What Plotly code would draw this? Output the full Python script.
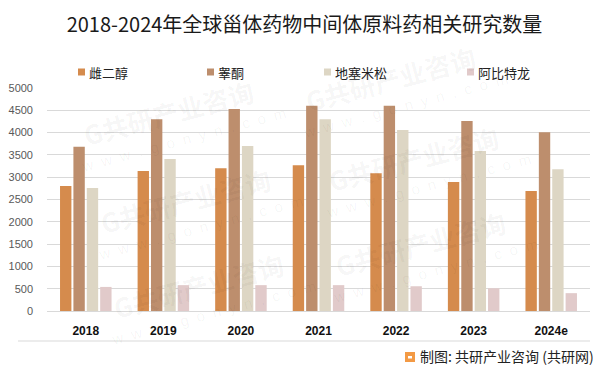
import math
import plotly.graph_objects as go

years = ["2018", "2019", "2020", "2021", "2022", "2023", "2024e"]
series_names = ["雌二醇", "睾酮", "地塞米松", "阿比特龙"]
estradiol = [2800, 3140, 3200, 3270, 3090, 2890, 2690]
testosterone = [3680, 4300, 4530, 4600, 4600, 4260, 4010]
dexamethasone = [2760, 3410, 3700, 4300, 4060, 3590, 3180]
abiraterone = [540, 580, 580, 580, 555, 510, 400]
y_ticks = [0, 500, 1000, 1500, 2000, 2500, 3000, 3500, 4000, 4500, 5000]
colors = ["#D58B4D", "#BD8E6D", "#DDD6C4", "#E1CACA"]

CJK = "Noto Sans CJK SC"
# The page body adds an 8px margin; figure coordinates = reference coordinates - 8
W, H = 593, 365
L, R, T, B = 39, 11, 80, 62
PW, PH = W - L - R, H - T - B


def px(x):
    return (x - L) / PW


def py(y):
    return (H - B - y) / PH


fig = go.Figure()
for name, vals, c in zip(series_names, [estradiol, testosterone, dexamethasone, abiraterone], colors):
    fig.add_trace(go.Bar(x=years, y=vals, name=name, marker=dict(color=c, line=dict(width=0))))

fig.update_layout(
    width=W, height=H,
    margin=dict(l=L, r=R, t=T, b=B, autoexpand=False),
    paper_bgcolor="white", plot_bgcolor="white",
    barmode="group", bargap=0.31, bargroupgap=0.15,
    title=dict(text="2018-2024年全球甾体药物中间体原料药相关研究数量", x=0.5, xanchor="center",
               y=1 - 16.5 / H, yanchor="middle", yref="container",
               font=dict(family=CJK, size=20, color="#1a1a1a")),
    showlegend=False,
    font=dict(family="Liberation Sans, " + CJK),
)
fig.update_xaxes(showgrid=False, showline=False, ticks="", ticklabelstandoff=11,
                 tickfont=dict(family="Liberation Sans", size=12, color="#111", weight="bold"))
fig.update_yaxes(range=[0, 5000], tickvals=y_ticks, showgrid=True, gridcolor="#D9D9D9", gridwidth=1,
                 zeroline=True, zerolinecolor="#D9D9D9", zerolinewidth=1, showline=False,
                 ticks="", ticklabelstandoff=13,
                 tickfont=dict(family="Liberation Sans", size=11, color="#595959"))

# faint watermark tiles (reference coordinates of the Chinese text centre), only those fully inside
wm_centres = [(168, 112), (185, 200), (198, 285), (390, 78), (413, 158), (420, 243)]
ang = 15
for cx, cy in wm_centres:
    fx, fy = cx - 8, cy - 8
    fig.add_annotation(text="<b>G共研产业咨询</b>", xref="paper", yref="paper",
                       x=px(fx), y=py(fy), xanchor="center", yanchor="middle", showarrow=False,
                       textangle=-ang, font=dict(family=CJK, size=26, color="rgba(0,0,0,0.045)"))
    ox, oy = 28 * math.sin(math.radians(ang)) + 8, 28 * math.cos(math.radians(ang))
    fig.add_annotation(text="w  w  w  .  g  o  n  y  n  .  c  o  m", xref="paper", yref="paper",
                       x=px(fx + ox), y=py(fy + oy), xanchor="center", yanchor="middle",
                       showarrow=False, textangle=-ang,
                       font=dict(family="Liberation Sans", size=15, color="rgba(0,0,0,0.045)"))

# legend (drawn manually to match the reference spacing)
legend_text_x = [79, 208, 325, 468]
for name, c, tx in zip(series_names, colors, legend_text_x):
    fig.add_shape(type="rect", xref="paper", yref="paper", x0=px(tx - 9), x1=px(tx - 2),
                  y0=py(67.5), y1=py(60.5), fillcolor=c, line=dict(width=0))
    fig.add_annotation(text=name, xref="paper", yref="paper", x=px(tx), xanchor="left",
                       y=py(64), yanchor="middle", showarrow=False,
                       font=dict(family=CJK, size=13, color="#222"))

# separator line
fig.add_shape(type="line", xref="paper", yref="paper", x0=px(10), x1=px(582),
              y0=py(333), y1=py(333), line=dict(color="#D9D9D9", width=1))
# logo
fig.add_shape(type="rect", xref="paper", yref="paper", x0=px(397), x1=px(407),
              y0=py(354), y1=py(344), fillcolor="#F39A45", line=dict(width=0))
fig.add_shape(type="rect", xref="paper", yref="paper", x0=px(400), x1=px(404),
              y0=py(350.5), y1=py(348), fillcolor="white", line=dict(width=0))
fig.add_annotation(text="制图: 共研产业咨询 (共研网)", xref="paper", yref="paper",
                   x=px(588), xanchor="right", y=py(348), yanchor="middle",
                   showarrow=False, font=dict(family=CJK, size=14, color="#222"))

fig.write_html("out.html")
